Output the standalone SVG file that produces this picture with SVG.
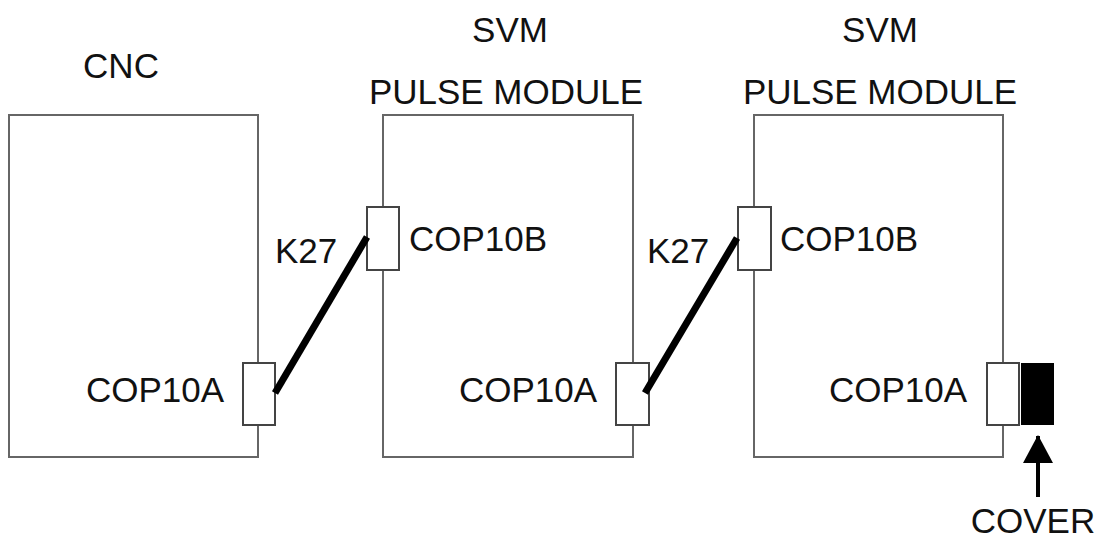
<svg xmlns="http://www.w3.org/2000/svg" width="1103" height="548" viewBox="0 0 1103 548">
<style>
text{font-family:"Liberation Sans",Arial,sans-serif;font-size:35px;fill:#111}
.box{fill:#fff;stroke:#666;stroke-width:2}
.con{fill:#fff;stroke:#444;stroke-width:2}
.cable{stroke:#000;stroke-width:7;stroke-linecap:butt}
</style>
<defs>
<marker id="ah" markerWidth="28" markerHeight="30" refX="27" refY="15" orient="auto" markerUnits="userSpaceOnUse" viewBox="0 0 28 30">
<path d="M28 15 L0 0 L0 30 Z" fill="#000"/>
</marker>
</defs>
<g id="cnc">
<rect class="box" x="9" y="115" width="249" height="342"/>
<text x="121" y="78" text-anchor="middle">CNC</text>
<rect class="con" x="243" y="363" width="32" height="62"/>
<text x="86" y="402">COP10A</text>
</g>
<g id="svm1">
<rect class="box" x="383" y="115" width="250" height="342"/>
<text x="510" y="42" text-anchor="middle">SVM</text>
<text x="506" y="104" text-anchor="middle">PULSE MODULE</text>
<rect class="con" x="367" y="207" width="32" height="63"/>
<text x="409" y="251">COP10B</text>
<rect class="con" x="616" y="363" width="33" height="62"/>
<text x="459" y="402">COP10A</text>
</g>
<g id="svm2">
<rect class="box" x="754" y="115" width="249" height="342"/>
<text x="880" y="42" text-anchor="middle">SVM</text>
<text x="880" y="104" text-anchor="middle">PULSE MODULE</text>
<rect class="con" x="738" y="207" width="33" height="63"/>
<text x="780" y="251">COP10B</text>
<rect class="con" x="987" y="363" width="32" height="62"/>
<text x="829" y="402">COP10A</text>
</g>
<g id="cover">
<rect x="1021" y="363" width="33" height="62" fill="#000"/>
<text x="1033" y="533" text-anchor="middle">COVER</text>
</g>
<g id="connectors">
<line class="cable" x1="275" y1="393" x2="367" y2="237"/>
<text x="275" y="263">K27</text>
<line class="cable" x1="645" y1="393" x2="737" y2="238"/>
<text x="647" y="263">K27</text>
<line x1="1038" y1="497" x2="1038" y2="436" stroke="#000" stroke-width="4" marker-end="url(#ah)"/>
</g>
</svg>
